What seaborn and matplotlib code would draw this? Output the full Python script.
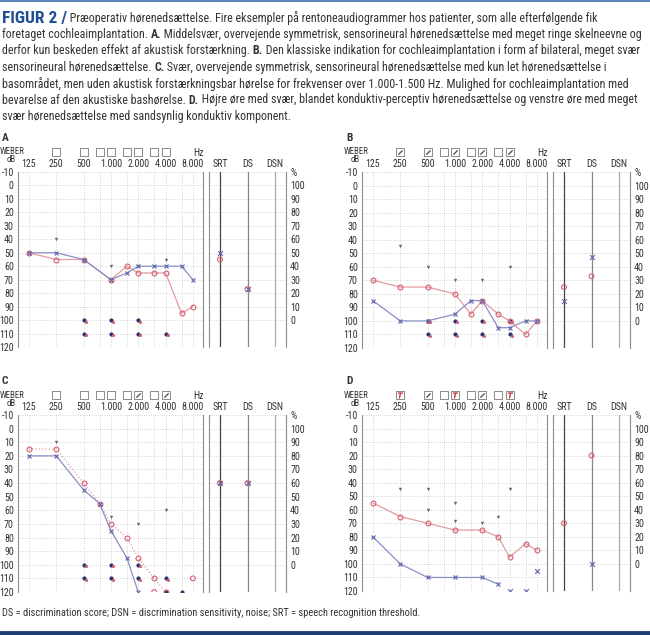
import numpy as np
import pandas as pd
import seaborn as sns
import matplotlib.pyplot as plt
import matplotlib.font_manager as fm
from matplotlib import transforms
from matplotlib.lines import Line2D

W, H = 650, 635

# ---- audiogram data (dB HL) ----
MAJOR_F = [125, 250, 500, 1000, 2000, 4000, 8000]
MAJOR_LABELS = ["125", "250", "500", "1.000", "2.000", "4.000", "8.000"]
MINOR_F = [750, 1500, 3000, 6000]
BOX_F = [250, 500, 750, 1000, 1500, 2000, 3000, 4000]
SPEECH_COLS = ["SRT", "DS", "DSN"]

# panel A
a_right_f = [125, 250, 500, 1000, 1500, 2000, 3000, 4000, 6000, 8000]
a_right_db = [50, 55, 55, 70, 60, 65, 65, 65, 95, 90]
a_left_f = [125, 250, 500, 1000, 1500, 2000, 3000, 4000, 6000, 8000]
a_left_db = [50, 50, 55, 70, 65, 60, 60, 60, 60, 70]
a_bone_f = [250, 500, 1000, 2000, 4000]
a_bone_db = [40, 55, 60, 60, 55]
a_nr_f = [500, 1000, 2000, 500, 1000, 2000, 4000]
a_nr_db = [100, 100, 100, 110, 110, 110, 110]
a_srt_right, a_srt_left = [55], [50]
a_ds_right, a_ds_left = [23], [23]
a_boxes = ["", "", "", "", "", "", "", ""]

# panel B
b_right_f = [125, 250, 500, 1000, 1500, 2000, 3000, 4000, 6000, 8000]
b_right_db = [70, 75, 75, 80, 95, 85, 95, 100, 110, 100]
b_left_f = [125, 250, 500, 1000, 1500, 2000, 3000, 4000, 6000, 8000]
b_left_db = [85, 100, 100, 95, 85, 85, 105, 105, 100, 100]
b_bone_f = [250, 500, 1000, 2000, 4000]
b_bone_db = [45, 60, 70, 70, 60]
b_nr_f = [500, 1000, 2000, 4000, 500, 1000, 2000, 4000]
b_nr_db = [100, 100, 100, 100, 110, 110, 110, 110]
b_srt_right, b_srt_left = [75], [85]
b_ds_right, b_ds_left = [33], [47]
b_boxes = ["x", "x", "", "x", "", "x", "", "x"]

# panel C
c_right_f = [125, 250, 500, 750, 1000, 1500, 2000, 3000, 4000]
c_right_db = [15, 15, 40, 55, 70, 80, 95, 110, 120]
c_left_f = [125, 250, 500, 750, 1000, 1500, 2000]
c_left_db = [20, 20, 45, 55, 75, 95, 120]
c_right_extra_f = [3000, 8000]
c_right_extra_db = [120, 110]
c_bone_f = [250, 1000, 2000, 4000]
c_bone_db = [10, 65, 70, 60]
c_nr_f = [500, 1000, 2000, 500, 1000, 2000, 4000, 4000, 6000]
c_nr_db = [100, 100, 100, 110, 110, 110, 110, 120, 120]
c_srt_right, c_srt_left = [40], [40]
c_ds_right, c_ds_left = [60], [60]
c_boxes = ["", "", "", "", "", "x", "", "x"]

# panel D
d_right_f = [125, 250, 500, 1000, 2000, 3000, 4000, 6000, 8000]
d_right_db = [55, 65, 70, 75, 75, 80, 95, 85, 90]
d_left_f = [125, 250, 500, 1000, 2000, 3000]
d_left_db = [80, 100, 110, 110, 110, 115]
d_left_extra_f = [4000, 6000, 8000]
d_left_extra_db = [120, 120, 105]
d_bone_f = [250, 500, 500, 1000, 1000, 2000, 3000, 4000]
d_bone_db = [45, 45, 60, 55, 68, 70, 65, 45]
d_srt_right, d_srt_left = [70], []
d_ds_right, d_ds_left = [80], [0]
d_boxes = ["t", "x", "", "t", "", "x", "", "t"]

CAPTION = [
    [(" Præoperativ hørenedsættelse. Fire eksempler på rentoneaudiogrammer hos patienter, som alle efterfølgende fik", False)],
    [("foretaget cochleaimplantation. ", False), ("A.", True),
     (" Middelsvær, overvejende symmetrisk, sensorineural hørenedsættelse med meget ringe skelneevne og", False)],
    [("derfor kun beskeden effekt af akustisk forstærkning. ", False), ("B.", True),
     (" Den klassiske indikation for cochleaimplantation i form af bilateral, meget svær", False)],
    [("sensorineural hørenedsættelse. ", False), ("C.", True),
     (" Svær, overvejende symmetrisk, sensorineural hørenedsættelse med kun let hørenedsættelse i", False)],
    [("basområdet, men uden akustisk forstærkningsbar hørelse for frekvenser over 1.000-1.500 Hz. Mulighed for cochleaimplantation med", False)],
    [("bevarelse af den akustiske bashørelse. ", False), ("D.", True),
     (" Højre øre med svær, blandet konduktiv-perceptiv hørenedsættelse og venstre øre med meget", False)],
    [("svær hørenedsættelse med sandsynlig konduktiv komponent.", False)],
]
FOOTER = "DS = discrimination score; DSN = discrimination sensitivity, noise; SRT = speech recognition threshold."

RED = "#d4606e"
BLUE = "#5d64aa"
RED_LINE = "#e59aa3"
BLUE_LINE = "#8a8fc4"
DARK = "#2f3470"
BONE = "#666666"
TXT = "#333333"

sns.set_theme(style="white")

# look for a narrow sans font, the original uses a condensed face
narrow, stretch = None, "normal"
names = {f.name for f in fm.fontManager.ttflist}
for pref in ["Liberation Sans Narrow", "Roboto Condensed", "Noto Sans Condensed",
             "Open Sans Condensed", "DejaVu Sans Condensed"]:
    if pref in names:
        narrow = pref
        break
if narrow is None:
    for f in fm.fontManager.ttflist:
        if ("Condensed" in f.name or "Narrow" in f.name) and "Mono" not in f.name \
                and "Serif" not in f.name and "Extra" not in f.name:
            narrow = f.name
            break
if narrow is None:
    for f in fm.fontManager.ttflist:
        if str(f.stretch) in ("condensed", "semi-condensed") and f.name in \
                ("DejaVu Sans", "Noto Sans", "Open Sans", "Roboto", "Liberation Sans"):
            narrow, stretch = f.name, str(f.stretch)
            break
if narrow is None:
    narrow = "DejaVu Sans"

plt.rcParams["font.family"] = [narrow, "DejaVu Sans"]
plt.rcParams["font.stretch"] = stretch
plt.rcParams["axes.unicode_minus"] = False

fig = plt.figure(figsize=(6.5, 6.35), dpi=100)
renderer = fig.canvas.get_renderer()
lab = 7.2
head_lab = 6.4


def px_box(x0, y0, x1, y1):
    return [x0 / W, 1 - y1 / H, (x1 - x0) / W, (y1 - y0) / H]


def draw_panel(letter, x0, y0, y1, d):
    ax = fig.add_axes(px_box(x0, y0, x0 + 185, y1))
    sp = fig.add_axes(px_box(x0 + 191, y0, x0 + 268, y1))
    h = y1 - y0

    # conduction curves
    sns.lineplot(x=d["rf"], y=d["rdb"], ax=ax, color=RED_LINE, lw=0.9, ls=d.get("rls", "-"),
                 marker="o", ms=3.5, mfc="none", mec=RED, mew=0.8, estimator=None, sort=False)
    sns.lineplot(x=d["lf"], y=d["ldb"], ax=ax, color=BLUE_LINE, lw=0.9, ls=d.get("lls", "-"),
                 marker="x", ms=3.5, mec=BLUE, mew=0.8, estimator=None, sort=False)
    if "rxf" in d:
        sns.scatterplot(x=d["rxf"], y=d["rxdb"], ax=ax, marker="o", s=12, facecolor="none",
                        edgecolor=RED, linewidth=0.8)
    if "lxf" in d:
        sns.scatterplot(x=d["lxf"], y=d["lxdb"], ax=ax, marker="x", s=12, color=BLUE, linewidth=0.8)
    sns.scatterplot(x=d["bf"], y=d["bdb"], ax=ax, marker="v", s=6, color=BONE, linewidth=0)
    if d.get("nf"):
        sns.scatterplot(x=d["nf"], y=d["ndb"], ax=ax, marker="o", s=9, color=DARK, linewidth=0)
        off = transforms.offset_copy(ax.transData, fig=fig, x=2, y=-1.5, units="dots")
        ax.scatter(d["nf"], d["ndb"], marker="o", s=5, color=RED, linewidth=0, transform=off, zorder=3)

    ax.set_xscale("log", base=2)
    ax.set_xlim(125 * 2 ** -0.4, 8000 * 2 ** 0.37)
    ax.set_ylim(120, -10)
    ax.set_xticks(MAJOR_F)
    ax.set_xticklabels(MAJOR_LABELS)
    ax.set_xticks(MINOR_F, minor=True)
    ax.set_xticklabels([], minor=True)
    ax.set_yticks(range(-10, 121, 10))
    ax.xaxis.tick_top()
    ax.tick_params(axis="x", which="both", length=0, pad=2, labelsize=lab, colors=TXT)
    ax.tick_params(axis="y", length=0, pad=3, labelsize=lab, colors=TXT)
    ax.grid(True, which="both", color="#c8c8c8", lw=0.6, ls=":")
    for side in ["top", "bottom"]:
        ax.spines[side].set_visible(False)
    for side in ["left", "right"]:
        ax.spines[side].set_color("#8c8c8c")
        ax.spines[side].set_linewidth(0.8)
    ax.set_xlabel("")
    ax.set_ylabel("")

    # header: WEBER masking boxes
    yb = 1 + 20 / h
    bt = ax.get_xaxis_transform()
    ax.scatter(BOX_F, [yb] * len(BOX_F), marker="s", s=26, facecolor="white",
               edgecolor="#777777", linewidth=0.6, transform=bt, clip_on=False, zorder=4)
    for f, st in zip(BOX_F, d["boxes"]):
        if st == "x":
            ax.scatter([f], [yb], marker=(2, 2, -45), s=12, color="#555555", linewidth=0.7,
                       transform=bt, clip_on=False, zorder=5)
        elif st == "t":
            ax.scatter([f], [yb], marker="$T$", s=16, color="#c0202c", linewidth=0.3,
                       transform=bt, clip_on=False, zorder=5)
    fig.text((x0 - 18) / W, 1 - (y0 - 20) / H, "WEBER", fontsize=head_lab, color=TXT, va="center")
    fig.text((x0 - 7) / W, 1 - (y0 - 12) / H, "dB", fontsize=head_lab, color=TXT, va="center",
             ha="center")
    fig.text((x0 + 180) / W, 1 - (y0 - 19) / H, "Hz", fontsize=lab, color=TXT, va="center", ha="center")
    fig.text((x0 - 16) / W, 1 - (y0 - 34) / H, letter, fontsize=lab + 1, fontweight="bold",
             color=TXT, va="center")

    # speech audiometry panel
    for i, col in enumerate(SPEECH_COLS):
        sp.axvline(i, color=["#444444", "#888888", "#aaaaaa"][i], lw=0.9)
    sx = SPEECH_COLS.index("SRT")
    dx = SPEECH_COLS.index("DS")
    if d["srt_r"]:
        sns.scatterplot(x=[sx] * len(d["srt_r"]), y=d["srt_r"], ax=sp, marker="o", s=12,
                        facecolor="none", edgecolor=RED, linewidth=0.8, zorder=4)
    if d["srt_l"]:
        sns.scatterplot(x=[sx] * len(d["srt_l"]), y=d["srt_l"], ax=sp, marker="x", s=12,
                        color=BLUE, linewidth=0.8, zorder=4)
    if d["ds_r"]:
        sns.scatterplot(x=[dx] * len(d["ds_r"]), y=[100 - v for v in d["ds_r"]], ax=sp,
                        marker="o", s=12, facecolor="none", edgecolor=RED, linewidth=0.8, zorder=4)
    if d["ds_l"]:
        sns.scatterplot(x=[dx] * len(d["ds_l"]), y=[100 - v for v in d["ds_l"]], ax=sp,
                        marker="x", s=12, color=BLUE, linewidth=0.8, zorder=4)
    sp.set_xlim(-0.4, 2.4)
    sp.set_ylim(120, -10)
    sp.set_xticks(range(len(SPEECH_COLS)))
    sp.set_xticklabels(SPEECH_COLS)
    sp.set_yticks(range(-10, 101, 10))
    sp.set_yticklabels(["%"] + [str(100 - v) for v in range(0, 101, 10)])
    sp.xaxis.tick_top()
    sp.yaxis.tick_right()
    sp.tick_params(axis="x", length=0, pad=2, labelsize=lab, colors=TXT)
    sp.tick_params(axis="y", length=0, pad=3, labelsize=lab, colors=TXT)
    sp.grid(True, axis="y", color="#c8c8c8", lw=0.6, ls=":")
    for side in ["top", "bottom"]:
        sp.spines[side].set_visible(False)
    for side in ["left", "right"]:
        sp.spines[side].set_color("#8c8c8c")
        sp.spines[side].set_linewidth(0.8)
    sp.set_xlabel("")
    sp.set_ylabel("")


panels = [
    ("A", 18, 172, 347, dict(rf=a_right_f, rdb=a_right_db, lf=a_left_f, ldb=a_left_db,
                             bf=a_bone_f, bdb=a_bone_db, nf=a_nr_f, ndb=a_nr_db,
                             srt_r=a_srt_right, srt_l=a_srt_left, ds_r=a_ds_right, ds_l=a_ds_left,
                             boxes=a_boxes)),
    ("B", 362, 172, 348, dict(rf=b_right_f, rdb=b_right_db, lf=b_left_f, ldb=b_left_db,
                              bf=b_bone_f, bdb=b_bone_db, nf=b_nr_f, ndb=b_nr_db,
                              srt_r=b_srt_right, srt_l=b_srt_left, ds_r=b_ds_right, ds_l=b_ds_left,
                              boxes=b_boxes)),
    ("C", 18, 415, 592, dict(rf=c_right_f, rdb=c_right_db, lf=c_left_f, ldb=c_left_db,
                             rxf=c_right_extra_f, rxdb=c_right_extra_db, rls=":",
                             bf=c_bone_f, bdb=c_bone_db, nf=c_nr_f, ndb=c_nr_db,
                             srt_r=c_srt_right, srt_l=c_srt_left, ds_r=c_ds_right, ds_l=c_ds_left,
                             boxes=c_boxes)),
    ("D", 362, 415, 591, dict(rf=d_right_f, rdb=d_right_db, lf=d_left_f, ldb=d_left_db,
                              lxf=d_left_extra_f, lxdb=d_left_extra_db,
                              bf=d_bone_f, bdb=d_bone_db, nf=[], ndb=[],
                              srt_r=d_srt_right, srt_l=d_srt_left, ds_r=d_ds_right, ds_l=d_ds_left,
                              boxes=d_boxes)),
]
for letter, x0, y0, y1, d in panels:
    draw_panel(letter, x0, y0, y1, d)


# ---- caption with inline bold ----
def rich_line(x, y, parts, size):
    for s, bold in parts:
        t = fig.text(x / W, 1 - y / H, s, fontsize=size, color=TXT, va="center",
                     fontweight="bold" if bold else "normal")
        x += t.get_window_extent(renderer).width
    return x


def fit_size(text, target_px, base=8.0):
    probe = fig.text(0, 0, text, fontsize=base)
    w = probe.get_window_extent(renderer).width
    probe.remove()
    return base * target_px / w


# the second caption line fills the width, the footer stops near x=422
cap_size = min(fit_size("".join(s for s, _ in CAPTION[1]), 640.0), 9.0)
foot_size = min(fit_size(FOOTER, 420.0), cap_size)

head = fig.text(2 / W, 1 - 18 / H, "FIGUR 2 /", fontsize=cap_size * 1.45, fontweight="bold",
                color="#1d4f91", va="center")
hx = 2 + head.get_window_extent(renderer).width
for i, parts in enumerate(CAPTION):
    x_start = hx if i == 0 else 2
    rich_line(x_start, 18 + 16.4 * i, parts, cap_size)

fig.text(2 / W, 1 - 613 / H, FOOTER, fontsize=foot_size, color=TXT, va="center")

fig.add_artist(Line2D([0, 1], [1 - 1 / H, 1 - 1 / H], color="#3f6db0", lw=1.2))
fig.add_artist(Line2D([0, 1], [1 - 632.5 / H, 1 - 632.5 / H], color="#1d3f73", lw=3.5))

fig.savefig("out.png", dpi=100)
